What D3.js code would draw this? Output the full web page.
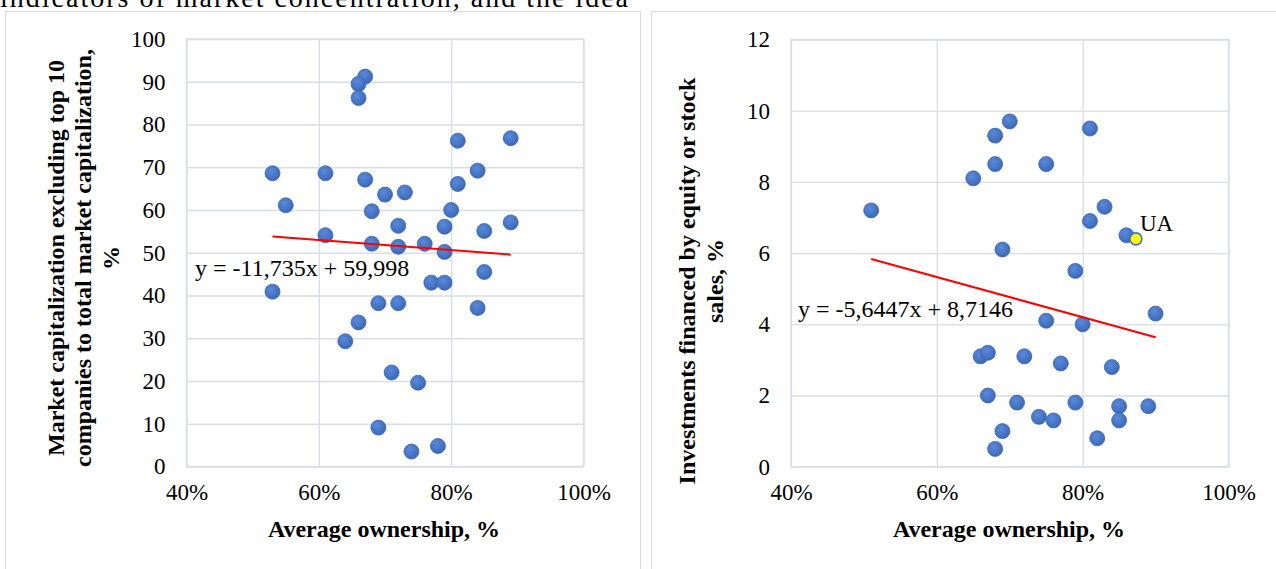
<!DOCTYPE html>
<html>
  <head>
    <meta charset="utf-8">
    <title>Ownership scatter</title>
    <script src="https://cdn.jsdelivr.net/npm/d3@7"></script>
    <style>
      body { margin: 0; background: #fff; }
      text { font-family: "Liberation Serif", "Times New Roman", serif; fill: #000; }
    </style>
  </head>
  <body>
    <svg width="1276" height="569" id="mainsvg"></svg>
    <script>
        // x ticks shared by both charts
        const ownershipTicks = [0.4, 0.6, 0.8, 1.0];

        // left chart: market cap excl. top 10 vs average ownership
        const capTicks = [0, 10, 20, 30, 40, 50, 60, 70, 80, 90, 100];
        const capX = [0.67, 0.66, 0.66, 0.81, 0.89, 0.53, 0.61, 0.84, 0.67, 0.81,
                      0.55, 0.70, 0.73, 0.68, 0.80, 0.72, 0.79, 0.85, 0.89, 0.61,
                      0.68, 0.72, 0.76, 0.79, 0.85, 0.77, 0.79, 0.53, 0.69, 0.72,
                      0.84, 0.66, 0.64, 0.71, 0.75, 0.69, 0.78, 0.74];
        const capY = [91.2, 89.5, 86.2, 76.2, 76.8, 68.6, 68.6, 69.2, 67.1, 66.1,
                      61.1, 63.6, 64.1, 59.7, 60.0, 56.3, 56.1, 55.1, 57.1, 54.1,
                      52.1, 51.4, 52.1, 50.2, 45.5, 43.0, 43.0, 40.9, 38.2, 38.2,
                      37.1, 33.7, 29.3, 22.0, 19.6, 9.1, 4.8, 3.5];
        const capTrend = {slope: -11.735, intercept: 59.998, from: 0.53, to: 0.89};

        // right chart: investments financed by equity vs average ownership
        const finTicks = [0, 2, 4, 6, 8, 10, 12];
        const finX = [0.51, 0.70, 0.68, 0.81, 0.68, 0.75, 0.65, 0.83, 0.81, 0.86,
                      0.69, 0.79, 0.90, 0.75, 0.80, 0.66, 0.67, 0.72, 0.77, 0.84,
                      0.67, 0.71, 0.79, 0.85, 0.89, 0.74, 0.76, 0.85, 0.69, 0.82, 0.68];
        const finY = [7.2, 9.7, 9.3, 9.5, 8.5, 8.5, 8.1, 7.3, 6.9, 6.5,
                      6.1, 5.5, 4.3, 4.1, 4.0, 3.1, 3.2, 3.1, 2.9, 2.8,
                      2.0, 1.8, 1.8, 1.7, 1.7, 1.4, 1.3, 1.3, 1.0, 0.8, 0.5];
        const finTrend = {slope: -5.6447, intercept: 8.7146, from: 0.51, to: 0.90};
        const uaPoint = {name: 'UA', x: 0.873, y: 6.4};

        const svg = d3.select('#mainsvg');
        const serif = '"Liberation Serif", "Times New Roman", serif';
        const blue = '#4472c4';
        const gridColor = '#d9dde5';

        // soft shading on the markers, like the Excel style
        const grad = svg.append('defs').append('radialGradient')
          .attr('id', 'dotfill').attr('cx', '40%').attr('cy', '35%').attr('r', '65%');
        grad.append('stop').attr('offset', '0%').attr('stop-color', '#5b8ad9');
        grad.append('stop').attr('offset', '100%').attr('stop-color', '#3c68ba');

        // bit of the surrounding document text, cut by the top edge (as in the source)
        svg.append('text').text('indicators of market concentration, and the idea')
          .attr('x', 0).attr('y', 7).attr('font-size', 28)
          .attr('textLength', 628).attr('lengthAdjust', 'spacing');

        // panel frames
        svg.append('rect').attr('x', 5.5).attr('y', 11.5).attr('width', 635).attr('height', 600)
          .attr('fill', 'none').attr('stroke', '#d9d9d9');
        svg.append('rect').attr('x', 651.5).attr('y', 11.5).attr('width', 640).attr('height', 600)
          .attr('fill', 'none').attr('stroke', '#d9d9d9');

        function drawChart(cfg) {
          const xScale = d3.scaleLinear().domain([0.4, 1]).range([cfg.left, cfg.right]);
          const yScale = d3.scaleLinear().domain(cfg.yDomain).range([cfg.bottom, cfg.top]);
          const g = svg.append('g');

          const xAxis = d3.axisBottom(xScale).tickValues(ownershipTicks)
            .tickFormat(d3.format('.0%')).tickSize(-(cfg.bottom - cfg.top)).tickPadding(17);
          const xg = g.append('g').attr('transform', `translate(0, ${cfg.bottom})`).call(xAxis);

          const yAxis = d3.axisLeft(yScale).tickValues(cfg.yTicks)
            .tickSize(-(cfg.right - cfg.left)).tickPadding(21);
          const yg = g.append('g').attr('transform', `translate(${cfg.left}, 0)`).call(yAxis);

          [xg, yg].forEach(a => {
            a.attr('font-family', null).attr('font-size', null);
            a.select('.domain').remove();
            a.selectAll('.tick line').attr('stroke', gridColor).attr('stroke-width', 1.3);
            a.selectAll('.tick text').style('font-family', serif).style('font-size', '23px')
              .attr('fill', '#000');
          });
          g.append('rect').attr('x', cfg.left).attr('y', cfg.top)
            .attr('width', cfg.right - cfg.left).attr('height', cfg.bottom - cfg.top)
            .attr('fill', 'none').attr('stroke', gridColor).attr('stroke-width', 1.3);

          const pts = cfg.xs.map((x, i) => ({x: x, y: cfg.ys[i]}));
          g.selectAll('.dot').data(pts).join('circle').attr('class', 'dot')
            .attr('cx', d => xScale(d.x)).attr('cy', d => yScale(d.y)).attr('r', 7.5)
            .attr('fill', 'url(#dotfill)').attr('stroke', '#3a66b6').attr('stroke-width', 0.8);

          if (cfg.special) {
            const s = cfg.special;
            g.append('circle').attr('cx', xScale(s.x)).attr('cy', yScale(s.y)).attr('r', 6)
              .attr('fill', '#ffff00').attr('stroke', blue).attr('stroke-width', 1.6);
            g.append('text').text(s.name).attr('font-size', 23)
              .attr('x', xScale(s.x) + 4).attr('y', yScale(s.y) - 8);
          }

          const t = cfg.trend;
          g.append('line')
            .attr('x1', xScale(t.from)).attr('y1', yScale(t.slope * t.from + t.intercept))
            .attr('x2', xScale(t.to)).attr('y2', yScale(t.slope * t.to + t.intercept))
            .attr('stroke', '#ff0000').attr('stroke-width', 2);

          const fmt = v => String(v).replace('.', ',');
          g.append('text').attr('font-size', 24)
            .attr('x', cfg.eq[0]).attr('y', cfg.eq[1])
            .text(`y = ${fmt(t.slope)}x + ${fmt(t.intercept)}`);

          g.append('text').text('Average ownership, %').attr('font-size', 24).attr('font-weight', 'bold')
            .attr('text-anchor', 'middle').attr('x', cfg.xTitle[0]).attr('y', cfg.xTitle[1]);

          cfg.yTitle.forEach((line, i) => {
            g.append('text').text(line).attr('font-size', 24).attr('font-weight', 'bold')
              .attr('text-anchor', 'middle')
              .attr('transform', `translate(${cfg.yTitleX + i * 27.5}, ${cfg.yTitleY}) rotate(-90)`);
          });
        }

        drawChart({
          left: 186.5, right: 583.5, top: 39, bottom: 466.5,
          yDomain: [0, 100], yTicks: capTicks, xs: capX, ys: capY, trend: capTrend,
          eq: [195, 276], xTitle: [384, 537],
          yTitle: ['Market capitalization excluding top 10',
                   'companies to total market capitalization,', '%'],
          yTitleX: 63.5, yTitleY: 258
        });

        drawChart({
          left: 791, right: 1228.5, top: 39.5, bottom: 466.7,
          yDomain: [0, 12], yTicks: finTicks, xs: finX, ys: finY, trend: finTrend,
          special: uaPoint,
          eq: [798, 317], xTitle: [1009, 537],
          yTitle: ['Investments financed by equity or stock', 'sales, %'],
          yTitleX: 695, yTitleY: 281
        });
    </script>
  </body>
</html>
